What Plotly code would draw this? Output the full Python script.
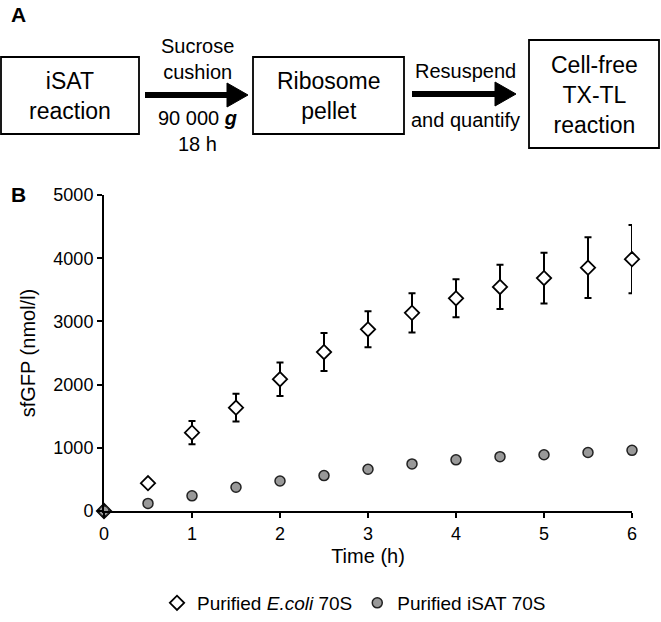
import plotly.graph_objects as go

time_h = [0, 0.5, 1, 1.5, 2, 2.5, 3, 3.5, 4, 4.5, 5, 5.5, 6]

ecoli_70s = [0, 440, 1240, 1635, 2085, 2515, 2875, 3135, 3365, 3545, 3685, 3850, 3985]
ecoli_err = [0, 0, 185, 220, 265, 300, 285, 310, 300, 350, 400, 480, 540]

isat_70s = [0, 120, 240, 375, 475, 560, 660, 745, 810, 860, 890, 925, 960]
isat_err = [0, 0, 0, 0, 0, 20, 20, 25, 25, 30, 35, 45, 55]

FONT = "Arial, Liberation Sans, sans-serif"

W, H = 661, 622

# plot area in page pixels (used to place panel A in paper coords)
L, R, T, B = 104, 632, 195, 511


def px(x):
    return (x - L) / (R - L)


def py(y):
    return (B - y) / (B - T)


fig = go.Figure()

fig.add_trace(go.Scatter(
    x=time_h,
    y=ecoli_70s,
    mode="markers",
    name="Purified <i>E.coli</i> 70S",
    marker=dict(symbol="diamond", size=11, color="white",
                line=dict(color="black", width=1.8)),
    error_y=dict(type="data", array=ecoli_err, color="black",
                 thickness=2, width=3.5),
    cliponaxis=False
))

fig.add_trace(go.Scatter(
    x=time_h,
    y=isat_70s,
    mode="markers",
    name="Purified iSAT 70S",
    marker=dict(symbol="circle", size=10, color="#999999",
                line=dict(color="#222222", width=1.5)),
    error_y=dict(type="data", array=isat_err, color="black",
                 thickness=1.5, width=2),
    cliponaxis=False
))

shapes = []
annotations = []


def text(x, y, t, size, **kw):
    annotations.append(dict(xref="paper", yref="paper", x=px(x), y=py(y),
                            text=t, showarrow=False, xanchor="center",
                            yanchor="middle",
                            font=dict(size=size, color="black", family=FONT),
                            **kw))


# panel A boxes
boxes = [
    (1, 57, 139, 134, "iSAT<br>reaction"),
    (253, 57, 404, 134, "Ribosome<br>pellet"),
    (529, 40, 659, 148, "Cell-free<br>TX-TL<br>reaction"),
]
for x0, y0, x1, y1, label in boxes:
    shapes.append(dict(type="rect", xref="paper", yref="paper",
                       x0=px(x0), x1=px(x1), y0=py(y0), y1=py(y1),
                       line=dict(color="black", width=1.8)))
    text((x0 + x1) / 2, (y0 + y1) / 2 + 1, label, 23)

# arrows
arrows = [(145, 248, 95), (412, 516, 94)]
for x0, x1, y in arrows:
    shapes.append(dict(type="line", xref="paper", yref="paper",
                       x0=px(x0), x1=px(x1 - 16), y0=py(y), y1=py(y),
                       line=dict(color="black", width=6)))
    shapes.append(dict(type="path", xref="paper", yref="paper",
                       path=f"M {px(x1 - 21)},{py(y - 12)} L {px(x1)},{py(y)} "
                            f"L {px(x1 - 21)},{py(y + 12)} Z",
                       fillcolor="black", line=dict(color="black", width=1)))

text(197, 59, "Sucrose<br>cushion", 20)
text(197, 131, "90 000 <b><i>g</i></b><br>18 h", 20)
text(465, 71, "Resuspend", 20)
text(465, 120, "and quantify", 20)

annotations.append(dict(xref="paper", yref="paper", x=px(9), y=py(14),
                        xanchor="left", yanchor="middle", text="<b>A</b>",
                        showarrow=False,
                        font=dict(size=21, color="black", family=FONT)))
annotations.append(dict(xref="paper", yref="paper", x=px(9), y=py(194),
                        xanchor="left", yanchor="middle", text="<b>B</b>",
                        showarrow=False,
                        font=dict(size=21, color="black", family=FONT)))

fig.update_layout(
    width=W,
    height=H,
    margin=dict(l=L, r=W - R, t=T, b=H - B, autoexpand=False),
    paper_bgcolor="white",
    plot_bgcolor="white",
    font=dict(family=FONT, size=18, color="black"),
    showlegend=True,
    legend=dict(orientation="h", x=px(354), xanchor="center", y=py(603),
                yanchor="middle", font=dict(size=19), itemwidth=30,
                tracegroupgap=0),
    shapes=shapes,
    annotations=annotations,
    xaxis=dict(range=[0, 6], tickvals=[0, 1, 2, 3, 4, 5, 6],
               showgrid=False, zeroline=False, showline=True,
               linecolor="black", linewidth=2, ticks="outside",
               ticklen=5, tickwidth=2, tickcolor="black",
               title=dict(text="Time (h)", font=dict(size=20), standoff=6)),
    yaxis=dict(range=[0, 5000], tickvals=[0, 1000, 2000, 3000, 4000, 5000],
               showgrid=False, zeroline=False, showline=True,
               linecolor="black", linewidth=2, ticks="outside",
               ticklen=5, tickwidth=2, tickcolor="black",
               title=dict(text="sfGFP (nmol/l)", font=dict(size=20),
                          standoff=12)),
)

# drop the default 8px page margin so the figure fills the window
fig.write_html("out.html", config={"displayModeBar": False},
               post_script="document.body.style.margin='0px';")
